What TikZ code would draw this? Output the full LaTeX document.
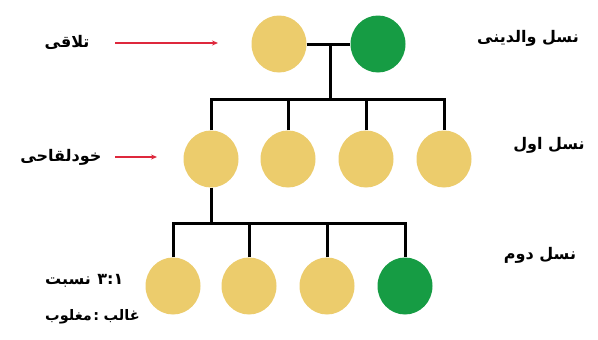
\documentclass[tikz,border=0pt]{standalone}
\usepackage{fontspec}
\newfontfamily\arabicfont[Script=Arabic,BoldFont={DejaVu Sans Bold}]{DejaVu Sans}
\TeXXeTstate=1
\usetikzlibrary{arrows.meta,shapes.geometric}
\definecolor{pea}{RGB}{236,204,108}
\definecolor{peagreen}{RGB}{22,156,68}
\definecolor{arrowred}{RGB}{222,40,60}
\begin{document}
\begin{tikzpicture}[x=1pt,y=-1pt,
  yel/.style={ellipse,fill=pea,minimum width=55pt,minimum height=57pt,inner sep=0pt},
  grn/.style={ellipse,fill=peagreen,minimum width=55pt,minimum height=57pt,inner sep=0pt},
  link/.style={line width=3pt,black,line join=miter},
  redarrow/.style={draw=arrowred,line width=1.3pt,-{Stealth[length=6pt,width=5pt]}},
  lbl/.style={font=\arabicfont\bfseries\fontsize{16}{18}\selectfont,inner sep=0pt},
  lblsm/.style={font=\arabicfont\bfseries\fontsize{14.5}{17}\selectfont,inner sep=0pt}]
\useasboundingbox (0,0) rectangle (598,340);
\fill[white] (0,0) rectangle (598,340);
% parents
\node[yel] (p1) at (279,44) {};
\node[grn] (p2) at (378,44) {};
% F1
\node[yel] (f1a) at (211,159) {};
\node[yel] (f1b) at (288,159) {};
\node[yel] (f1c) at (366,159) {};
\node[yel] (f1d) at (444,159) {};
% F2
\node[yel] (f2a) at (173,286) {};
\node[yel] (f2b) at (249,286) {};
\node[yel] (f2c) at (327,286) {};
\node[grn] (f2d) at (405,286) {};
% connectors
\coordinate (m) at (330,44);
\coordinate (b1) at (330,99);
\coordinate (b2) at (211,223);
\draw[link] (p1.east) -- (p2.west);
\draw[link] (m) -- (b1);
\draw[link] (f1a.north) -- (f1a |- b1) -- (f1d |- b1) -- (f1d.north);
\draw[link] (f1b.north) -- (f1b |- b1);
\draw[link] (f1c.north) -- (f1c |- b1);
\draw[link] (f1a.south) -- (b2);
\draw[link] (f2a.north) -- (f2a |- b2) -- (f2d |- b2) -- (f2d.north);
\draw[link] (f2b.north) -- (f2b |- b2);
\draw[link] (f2c.north) -- (f2c |- b2);
% red arrows
\coordinate (r1s) at (115,43);
\coordinate (r1e) at (218,43);
\coordinate (r2s) at (115,157);
\coordinate (r2e) at (157,157);
\draw[redarrow] (r1s) -- (r1e);
\draw[redarrow] (r2s) -- (r2e);
% labels
\node[lbl] (t1) at (67,42) {\beginR تلاقی\endR};
\node[lbl] (t2) at (61,157) {\beginR خودلقاحی\endR};
\node[lbl] (t3) at (528,38) {\beginR نسل والدینی\endR};
\node[lbl] (t4) at (549,145) {\beginR نسل اول\endR};
\node[lbl] (t5) at (540,255) {\beginR نسل دوم\endR};
% ratio label, laid out left to right as printed
\node[lbl,anchor=base west] (t6a) at (45,284) {نسبت};
\node[lbl,anchor=base west] (t6b) at ([xshift=6pt]t6a.base east) {۳:۱};
% dominant : recessive label, laid out left to right as printed
\node[lblsm,anchor=base west] (t7a) at (45,320) {مغلوب};
\node[lblsm,anchor=base west] (t7c) at ([xshift=1pt]t7a.base east) {:};
\node[lblsm,anchor=base west] (t7b) at ([xshift=4pt]t7c.base east) {غالب};
\end{tikzpicture}
\end{document}
